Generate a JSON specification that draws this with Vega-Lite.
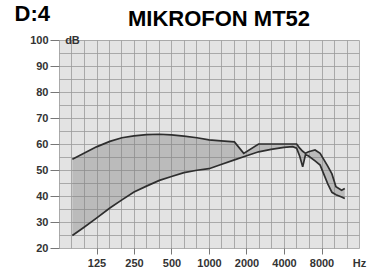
{
  "$schema": "https://vega.github.io/schema/vega-lite/v6.json",
  "width": 300,
  "height": 208,
  "autosize": {"type": "none"},
  "padding": {"left": 59, "top": 40, "right": 23, "bottom": 27},
  "background": "white",
  "title": {"text": "MIKROFON MT52", "anchor": "middle", "frame": "group", "dx": 10, "dy": 46, "offset": 0, "baseline": "alphabetic", "font": "Liberation Sans", "fontSize": 22, "fontWeight": "bold", "color": "black"},
  "config": {
    "view": {"fill": "#e3e3e3", "stroke": null}
  },
  "datasets": {
    "curves": [
      {"f": 80, "hi": 54.1, "lo": 24.8},
      {"f": 100, "hi": 56.5, "lo": 28.1},
      {"f": 125, "hi": 58.9, "lo": 31.5},
      {"f": 160, "hi": 61.0, "lo": 35.4},
      {"f": 200, "hi": 62.4, "lo": 38.5},
      {"f": 250, "hi": 63.1, "lo": 41.5},
      {"f": 315, "hi": 63.6, "lo": 43.8},
      {"f": 400, "hi": 63.75, "lo": 46.0},
      {"f": 500, "hi": 63.5, "lo": 47.5},
      {"f": 630, "hi": 63.0, "lo": 49.0},
      {"f": 800, "hi": 62.4, "lo": 49.9},
      {"f": 1000, "hi": 61.6, "lo": 50.5},
      {"f": 1250, "hi": 61.2, "lo": 52.1},
      {"f": 1600, "hi": 60.8, "lo": 53.9},
      {"f": 1900, "hi": 56.4, "lo": 55.1},
      {"f": 2500, "hi": 60.0, "lo": 57.0},
      {"f": 3150, "hi": 60.0, "lo": 57.9},
      {"f": 4000, "hi": 60.0, "lo": 58.7},
      {"f": 4700, "hi": 60.0, "lo": 59.0},
      {"f": 5050, "hi": 60.0, "lo": 58.4},
      {"f": 5350, "hi": 58.4, "lo": 55.3},
      {"f": 5650, "hi": 57.2, "lo": 51.2},
      {"f": 5950, "hi": 56.4, "lo": 55.9},
      {"f": 6300, "hi": 57.0, "lo": 55.4},
      {"f": 7100, "hi": 57.7, "lo": 53.5},
      {"f": 7800, "hi": 56.4, "lo": 51.9},
      {"f": 9000, "hi": 51.4, "lo": 44.6},
      {"f": 9700, "hi": 48.5, "lo": 41.4},
      {"f": 10450, "hi": 43.6, "lo": 40.5},
      {"f": 11600, "hi": 42.2, "lo": 39.6},
      {"f": 12300, "hi": 42.9, "lo": 39.0}
    ],
    "unit": [{"f": 70, "db": 100, "t": "dB"}]
  },
  "encoding": {
    "x": {
      "field": "f", "type": "quantitative",
      "scale": {"type": "log", "base": 2, "domain": [62.5, 16000], "nice": false, "zero": false},
      "axis": {
        "values": [62.5, 78.745, 99.213, 125, 157.49, 198.425, 250, 314.98, 396.85, 500, 629.96, 793.7, 1000, 1259.92, 1587.4, 2000, 2519.84, 3174.8, 4000, 5039.68, 6349.6, 8000, 10079.37, 12699.21, 16000],
        "grid": true, "gridColor": "#9a9a9a", "gridWidth": 0.8,
        "domain": false,
        "labelExpr": "indexof([125,250,500,1000,2000,4000,8000], datum.value) >= 0 ? format(datum.value, 'd') : (datum.value == 16000 ? 'Hz' : '')",
        "labelOverlap": false, "labelFlush": false,
        "tickOpacity": {"condition": {"test": "indexof([125,250,500,1000,2000,4000,8000], datum.value) >= 0", "value": 1}, "value": 0},
        "tickSize": 6, "tickColor": "#777777", "tickWidth": 1,
        "labelPadding": 3, "labelFont": "Liberation Sans", "labelFontSize": 11, "labelFontWeight": "bold", "labelColor": "#333333",
        "title": null
      }
    },
    "y": {
      "field": "hi", "type": "quantitative",
      "scale": {"domain": [20, 100], "nice": false, "zero": false},
      "axis": {
        "values": [20, 25, 30, 35, 40, 45, 50, 55, 60, 65, 70, 75, 80, 85, 90, 95, 100],
        "grid": true, "gridColor": "#9a9a9a", "gridWidth": 0.8,
        "domain": false,
        "labelExpr": "datum.value % 10 == 0 ? datum.label : ''",
        "labelOverlap": false,
        "tickOpacity": {"condition": {"test": "datum.value % 10 != 0", "value": 0}, "value": 1},
        "tickSize": 9, "tickColor": "#777777", "tickWidth": 1,
        "labelPadding": 2, "labelFont": "Liberation Sans", "labelFontSize": 11, "labelFontWeight": "bold", "labelColor": "#333333",
        "title": "D:4", "titleAngle": 0, "titleX": -45, "titleY": -20, "titleAlign": "left", "titleBaseline": "alphabetic",
        "titleFont": "Liberation Sans", "titleFontSize": 22, "titleFontWeight": "bold", "titleColor": "black"
      }
    }
  },
  "layer": [
    {
      "data": {"name": "curves"},
      "mark": {"type": "area", "fill": "#808080", "opacity": 0.4},
      "encoding": {
        "y2": {"field": "lo"}
      }
    },
    {
      "data": {"name": "curves"},
      "mark": {"type": "line", "color": "#2e2e2e", "strokeWidth": 1.7},
      "encoding": {}
    },
    {
      "data": {"name": "curves"},
      "mark": {"type": "line", "color": "#2e2e2e", "strokeWidth": 1.7},
      "encoding": {
        "y": {"field": "lo", "type": "quantitative"}
      }
    },
    {
      "data": {"name": "unit"},
      "mark": {"type": "text", "align": "left", "baseline": "middle", "font": "Liberation Sans", "fontSize": 11, "fontWeight": "bold", "color": "#333333", "dy": 1},
      "encoding": {
        "y": {"field": "db", "type": "quantitative"},
        "text": {"field": "t"}
      }
    }
  ]
}
